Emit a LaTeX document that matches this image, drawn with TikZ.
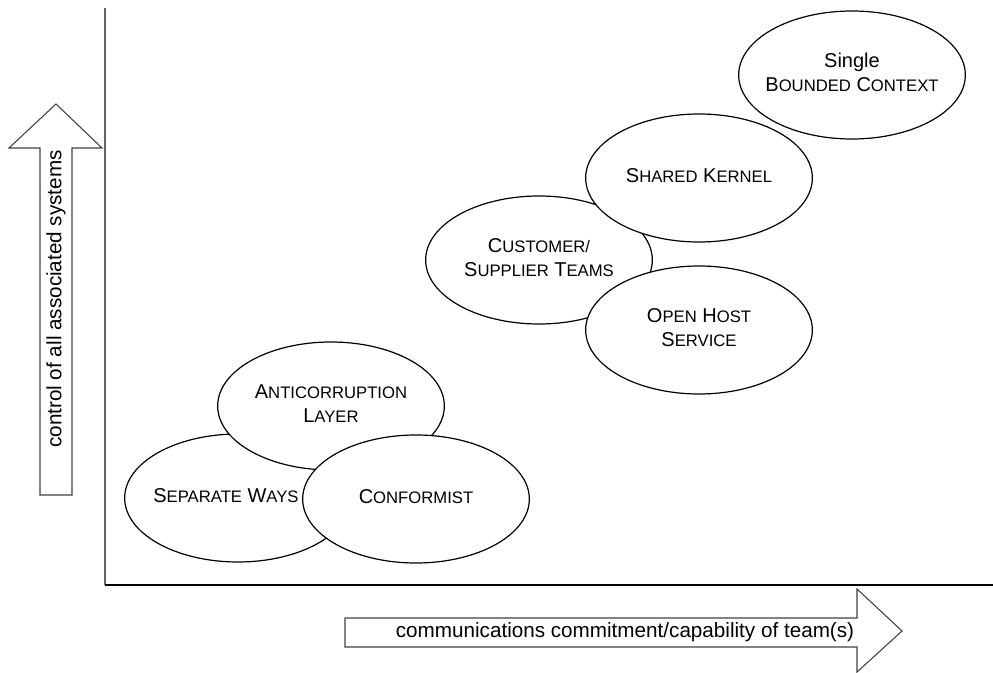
\documentclass[tikz,border=0pt]{standalone}
\usepackage{fontspec}
\setmainfont{Liberation Sans}
\usepackage{tikz}
\usetikzlibrary{shapes.geometric, positioning}

% small capitals made by hand: the font has none
\newcommand{\sk}[1]{{\fontsize{12.5}{18}\selectfont #1}}
\newcommand{\ctxtext}[1]{\makebox[0pt]{\begin{tabular}{@{}c@{}}#1\end{tabular}}}

\begin{document}
\begin{tikzpicture}[
  x=0.75pt, y=-0.75pt,
  ctx/.style={ellipse, draw, fill=white, line width=0.9pt, inner sep=0pt,
    minimum width=170pt, minimum height=96pt,
    font=\fontsize{15}{18}\selectfont},
  blockarrow/.style={draw=black!75, line width=0.8pt},
  axislabel/.style={font=\fontsize{15.5}{18}\selectfont, inner sep=0pt}
]
  \useasboundingbox (0,0) rectangle (993,673);

  % axes
  \coordinate (top) at (105,8);
  \coordinate (origin) at (105,585);
  \coordinate (right) at (993,585);
  \draw[black!60, line width=1.5pt] (top) -- (origin);
  \draw[line width=1.2pt] (origin) -- (right);

  % block arrows beside the axes
  \draw[blockarrow] (40,495) -- (40,148) -- (9,148) -- (56,104) -- (102,148)
    -- (72,148) -- (72,495) -- cycle;
  \node[axislabel, rotate=90] (ylab) at (56,299) {control of all associated systems};

  \draw[blockarrow] (345,618) -- (857,618) -- (857,589) -- (902,631) -- (857,672)
    -- (857,647) -- (345,647) -- cycle;
  \node[axislabel] (xlab) at (625,632) {communications commitment/capability of team(s)};

  % lower group
  \node[ctx] (separate) at (238,498) {\ctxtext{\hspace*{-18pt}S\sk{EPARATE} W\sk{AYS}}};
  \node[ctx] (anticorr) at (331,406) {\ctxtext{A\sk{NTICORRUPTION}\\L\sk{AYER}}};
  \node[ctx] (conformist) at (416,499) {\ctxtext{C\sk{ONFORMIST}}};

  % upper group
  \node[ctx] (custsup) at (539,260) {\ctxtext{C\sk{USTOMER/}\\S\sk{UPPLIER} T\sk{EAMS}}};
  \node[ctx] (kernel) at (699,178) {\ctxtext{S\sk{HARED} K\sk{ERNEL}}};
  \node[ctx] (openhost) at (699,330) {\ctxtext{O\sk{PEN} H\sk{OST}\\S\sk{ERVICE}}};
  \node[ctx] (single) at (852,75) {\ctxtext{Single\\B\sk{OUNDED} C\sk{ONTEXT}}};
\end{tikzpicture}
\end{document}
